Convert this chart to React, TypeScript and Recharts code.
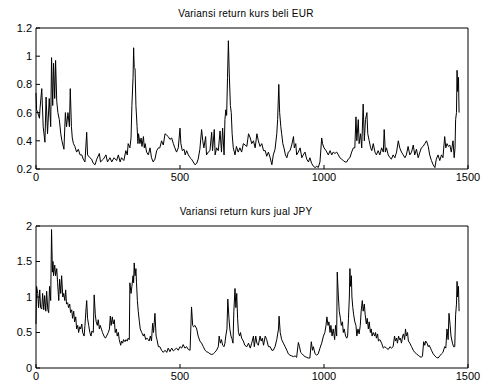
import { LineChart, Line, XAxis, YAxis } from 'recharts';

// time axis (days) and tick labels
const xTicks = [0, 500, 1000, 1500];
const eurTicks = [0.2, 0.4, 0.6, 0.8, 1, 1.2];
const jpyTicks = [0, 0.5, 1, 1.5, 2];

// [day, variance]
const eurBeli: [number, number][] = [
  [0, 0.74], [2, 0.62], [6, 0.6], [12, 0.56], [14, 0.63], [20, 0.77], [25, 0.5], [31, 0.39], [35, 0.71], [40, 0.45],
  [46, 0.7], [51, 0.5], [54, 0.99], [58, 0.65], [61, 0.95], [65, 0.7], [68, 0.97], [72, 0.68], [76, 0.6], [81, 0.55],
  [86, 0.45], [90, 0.4], [97, 0.34], [102, 0.6], [106, 0.5], [111, 0.6], [116, 0.5], [119, 0.77], [123, 0.5], [126, 0.42],
  [130, 0.38], [135, 0.36], [141, 0.32], [147, 0.34], [153, 0.3], [159, 0.3], [164, 0.27], [170, 0.25], [176, 0.46], [179, 0.3],
  [187, 0.28], [193, 0.27], [199, 0.24], [205, 0.23], [211, 0.27], [220, 0.31], [224, 0.25], [234, 0.27], [243, 0.3], [248, 0.25],
  [257, 0.28], [263, 0.25], [271, 0.28], [280, 0.26], [286, 0.3], [292, 0.25], [297, 0.28], [305, 0.26], [312, 0.33], [317, 0.3],
  [320, 0.38], [326, 0.35], [330, 0.42], [333, 0.65], [337, 0.85], [339, 1.06], [341, 0.92], [344, 0.91], [347, 0.65], [351, 0.5],
  [354, 0.38], [356, 0.45], [361, 0.38], [365, 0.42], [368, 0.36], [373, 0.43], [376, 0.35], [379, 0.38], [384, 0.32], [390, 0.3],
  [396, 0.35], [401, 0.28], [407, 0.25], [413, 0.27], [419, 0.33], [425, 0.35], [430, 0.35], [436, 0.4], [442, 0.37], [448, 0.45],
  [454, 0.44], [459, 0.43], [465, 0.41], [471, 0.42], [477, 0.38], [482, 0.35], [488, 0.32], [494, 0.35], [500, 0.49], [503, 0.38],
  [508, 0.33], [514, 0.34], [518, 0.3], [523, 0.33], [529, 0.3], [535, 0.28], [540, 0.27], [546, 0.25], [552, 0.23], [558, 0.24],
  [563, 0.27], [569, 0.34], [575, 0.48], [579, 0.4], [583, 0.35], [589, 0.43], [592, 0.3], [598, 0.32], [604, 0.33], [610, 0.46],
  [613, 0.33], [619, 0.48], [622, 0.3], [627, 0.35], [633, 0.33], [639, 0.47], [644, 0.32], [648, 0.49], [653, 0.3], [656, 0.55],
  [659, 0.62], [662, 0.58], [665, 0.85], [668, 1.11], [671, 0.88], [675, 0.65], [678, 0.6], [681, 0.45], [685, 0.35], [691, 0.3],
  [696, 0.36], [702, 0.32], [708, 0.35], [714, 0.32], [720, 0.38], [732, 0.36], [738, 0.45], [744, 0.42], [749, 0.38], [755, 0.4],
  [761, 0.35], [767, 0.45], [772, 0.4], [778, 0.36], [784, 0.38], [790, 0.33], [796, 0.33], [801, 0.29], [807, 0.32], [813, 0.28],
  [819, 0.23], [824, 0.3], [830, 0.34], [836, 0.45], [839, 0.55], [843, 0.8], [846, 0.6], [850, 0.5], [853, 0.45], [857, 0.38],
  [861, 0.35], [866, 0.3], [871, 0.28], [876, 0.32], [882, 0.33], [888, 0.37], [894, 0.43], [897, 0.35], [902, 0.38], [905, 0.3],
  [911, 0.32], [917, 0.35], [923, 0.28], [928, 0.3], [934, 0.32], [940, 0.27], [946, 0.25], [951, 0.28], [957, 0.24], [963, 0.22],
  [969, 0.21], [975, 0.22], [980, 0.21], [986, 0.25], [992, 0.42], [995, 0.38], [1000, 0.35], [1007, 0.33], [1015, 0.3], [1021, 0.33],
  [1027, 0.3], [1032, 0.32], [1038, 0.31], [1044, 0.32], [1050, 0.3], [1055, 0.28], [1061, 0.27], [1067, 0.26], [1073, 0.25], [1079, 0.25],
  [1084, 0.27], [1090, 0.28], [1096, 0.32], [1102, 0.35], [1107, 0.35], [1111, 0.57], [1114, 0.4], [1119, 0.55], [1122, 0.38], [1127, 0.45],
  [1131, 0.35], [1136, 0.66], [1140, 0.4], [1144, 0.55], [1149, 0.6], [1152, 0.45], [1157, 0.4], [1162, 0.35], [1166, 0.33], [1171, 0.38],
  [1177, 0.32], [1182, 0.3], [1188, 0.33], [1194, 0.3], [1200, 0.35], [1206, 0.32], [1209, 0.48], [1213, 0.32], [1217, 0.35], [1223, 0.3],
  [1229, 0.28], [1234, 0.27], [1240, 0.3], [1246, 0.28], [1252, 0.32], [1258, 0.4], [1263, 0.35], [1269, 0.32], [1275, 0.3], [1281, 0.28],
  [1286, 0.3], [1292, 0.36], [1298, 0.3], [1304, 0.32], [1310, 0.37], [1315, 0.3], [1321, 0.34], [1327, 0.28], [1333, 0.32], [1338, 0.35],
  [1344, 0.36], [1350, 0.38], [1356, 0.4], [1362, 0.36], [1367, 0.3], [1373, 0.26], [1379, 0.23], [1385, 0.21], [1390, 0.27], [1396, 0.3],
  [1402, 0.26], [1408, 0.3], [1413, 0.28], [1419, 0.43], [1423, 0.35], [1427, 0.38], [1432, 0.36], [1437, 0.37], [1442, 0.32], [1448, 0.4],
  [1452, 0.28], [1455, 0.35], [1457, 0.55], [1460, 0.6], [1462, 0.9], [1464, 0.75], [1467, 0.85], [1469, 0.6],
];

const jpyJual: [number, number][] = [
  [0, 0.62], [2, 1.15], [6, 1.05], [9, 0.85], [13, 1.1], [16, 0.85], [20, 0.83], [23, 1.05], [27, 0.82], [30, 1.02],
  [34, 0.8], [37, 1.08], [41, 0.82], [44, 0.78], [47, 1.15], [51, 0.95], [54, 1.95], [57, 1.35], [59, 1.5], [61, 1.3],
  [65, 1.45], [68, 1.3], [72, 1.4], [75, 1.2], [79, 0.95], [82, 1.25], [86, 1.05], [89, 1.3], [93, 1.0], [96, 1.05],
  [100, 0.95], [103, 1.1], [106, 0.9], [110, 0.92], [113, 0.85], [117, 0.9], [120, 0.78], [124, 0.82], [127, 0.7], [131, 0.8],
  [134, 0.65], [138, 0.72], [141, 0.55], [145, 0.6], [148, 0.5], [152, 0.58], [155, 0.55], [159, 0.62], [162, 0.5], [167, 0.45],
  [170, 0.6], [174, 0.85], [176, 0.95], [179, 0.7], [183, 0.6], [187, 0.5], [191, 0.45], [194, 0.52], [199, 0.5], [202, 1.03],
  [206, 0.75], [209, 0.65], [213, 0.6], [216, 0.68], [220, 0.55], [223, 0.6], [227, 0.55], [231, 0.5], [236, 0.45], [241, 0.42],
  [245, 0.45], [251, 0.5], [255, 0.55], [258, 0.73], [261, 0.6], [265, 0.72], [268, 0.62], [272, 0.68], [275, 0.5], [279, 0.55],
  [282, 0.45], [286, 0.5], [289, 0.4], [294, 0.32], [297, 0.38], [301, 0.35], [304, 0.4], [309, 0.37], [312, 0.4], [317, 0.38],
  [320, 0.42], [324, 0.4], [326, 1.2], [330, 1.05], [333, 1.15], [337, 1.3], [339, 1.2], [341, 1.48], [344, 1.3], [347, 1.4],
  [349, 1.2], [352, 0.95], [355, 0.8], [359, 0.65], [362, 0.55], [367, 0.5], [373, 0.45], [376, 0.48], [381, 0.4], [385, 0.42],
  [390, 0.4], [393, 0.38], [397, 0.45], [401, 0.38], [405, 0.63], [408, 0.5], [413, 0.77], [417, 0.45], [420, 0.4], [425, 0.3],
  [430, 0.3], [436, 0.25], [442, 0.22], [448, 0.25], [454, 0.22], [459, 0.28], [465, 0.23], [471, 0.28], [477, 0.24], [482, 0.26],
  [488, 0.28], [494, 0.25], [500, 0.3], [506, 0.28], [511, 0.33], [517, 0.28], [523, 0.3], [529, 0.26], [535, 0.25], [540, 0.86],
  [544, 0.6], [547, 0.58], [552, 0.6], [558, 0.55], [563, 0.45], [569, 0.38], [575, 0.35], [581, 0.3], [587, 0.25], [592, 0.23],
  [598, 0.22], [604, 0.2], [610, 0.19], [616, 0.2], [621, 0.22], [627, 0.25], [633, 0.3], [636, 0.45], [640, 0.35], [644, 0.4],
  [648, 0.32], [653, 0.3], [656, 0.35], [659, 0.45], [663, 0.55], [666, 0.97], [670, 0.7], [673, 0.55], [677, 0.45], [680, 0.42],
  [684, 0.35], [687, 0.8], [691, 1.12], [694, 0.85], [697, 1.05], [700, 0.7], [703, 0.5], [707, 0.45], [710, 0.5], [714, 0.42],
  [720, 0.38], [725, 0.32], [732, 0.3], [738, 0.35], [744, 0.28], [749, 0.35], [755, 0.45], [758, 0.3], [763, 0.45], [767, 0.35],
  [772, 0.32], [778, 0.45], [782, 0.38], [786, 0.42], [790, 0.32], [796, 0.45], [801, 0.4], [807, 0.3], [813, 0.3], [819, 0.25],
  [824, 0.25], [830, 0.3], [836, 0.4], [842, 0.55], [844, 0.73], [848, 0.5], [853, 0.4], [859, 0.35], [865, 0.3], [871, 0.25],
  [876, 0.2], [882, 0.18], [888, 0.17], [894, 0.16], [900, 0.17], [905, 0.15], [911, 0.36], [915, 0.3], [919, 0.22], [924, 0.2],
  [928, 0.18], [934, 0.16], [940, 0.15], [946, 0.14], [951, 0.14], [956, 0.37], [960, 0.25], [963, 0.3], [969, 0.2], [975, 0.18],
  [980, 0.2], [986, 0.28], [992, 0.35], [998, 0.45], [1003, 0.5], [1007, 0.6], [1010, 0.72], [1014, 0.6], [1017, 0.65], [1021, 0.5],
  [1024, 0.6], [1028, 0.45], [1032, 0.55], [1037, 0.4], [1040, 0.6], [1044, 0.45], [1046, 1.35], [1050, 1.0], [1053, 0.8], [1057, 0.7],
  [1060, 0.6], [1064, 0.65], [1067, 0.5], [1070, 0.55], [1075, 0.45], [1079, 0.42], [1082, 0.45], [1085, 0.7], [1088, 1.0], [1090, 1.4],
  [1092, 1.15], [1095, 1.3], [1097, 1.0], [1100, 0.85], [1103, 0.75], [1107, 0.65], [1111, 0.6], [1114, 0.45], [1118, 0.55], [1122, 0.48],
  [1126, 0.6], [1129, 0.8], [1133, 0.95], [1136, 0.8], [1140, 0.9], [1143, 0.75], [1147, 0.62], [1150, 0.7], [1154, 0.55], [1157, 0.65],
  [1161, 0.5], [1164, 0.55], [1167, 0.45], [1171, 0.5], [1176, 0.45], [1179, 0.5], [1182, 0.42], [1186, 0.48], [1189, 0.38], [1194, 0.4],
  [1200, 0.35], [1206, 0.28], [1211, 0.3], [1217, 0.28], [1223, 0.26], [1229, 0.3], [1234, 0.28], [1240, 0.3], [1245, 0.45], [1248, 0.38],
  [1252, 0.42], [1255, 0.35], [1259, 0.45], [1262, 0.4], [1265, 0.42], [1269, 0.35], [1273, 0.45], [1276, 0.48], [1280, 0.4], [1283, 0.55],
  [1286, 0.45], [1290, 0.5], [1293, 0.38], [1298, 0.35], [1304, 0.3], [1310, 0.25], [1315, 0.22], [1321, 0.2], [1327, 0.18], [1333, 0.16],
  [1338, 0.15], [1342, 0.17], [1346, 0.37], [1350, 0.32], [1353, 0.38], [1358, 0.35], [1362, 0.3], [1365, 0.32], [1370, 0.28], [1373, 0.25],
  [1379, 0.2], [1385, 0.17], [1390, 0.15], [1396, 0.14], [1402, 0.17], [1408, 0.2], [1413, 0.22], [1419, 0.3], [1423, 0.28], [1427, 0.55],
  [1431, 0.4], [1434, 0.77], [1438, 0.6], [1441, 0.45], [1446, 0.35], [1450, 0.3], [1454, 0.3], [1457, 0.75], [1460, 0.9], [1462, 1.22],
  [1464, 1.0], [1467, 1.15], [1469, 0.8],
];

const FONT = '"Liberation Sans Narrow", "Liberation Sans", Arial, sans-serif';
const tickStyle = { fill: '#000', fontSize: 11, fontFamily: FONT };

type PanelProps = {
  title: string;
  series: [number, number][];
  yTicks: number[];
  top: number;
  height: number;
  marginTop: number;
  axisHeight: number;
  marginBottom: number;
};

function Panel({ title, series, yTicks, top, height, marginTop, axisHeight, marginBottom }: PanelProps) {
  const data = series.map(([day, v]) => ({ day, v }));
  const domain = [yTicks[0], yTicks[yTicks.length - 1]];
  return (
    <div style={{ position: 'absolute', left: 0, top, width: 486, height }}>
      <div
        style={{
          position: 'absolute', left: 0, width: 492, top: marginTop - 20, textAlign: 'center',
          fontFamily: '"Liberation Sans", Arial, sans-serif', fontSize: 10, letterSpacing: 0.25, color: '#000',
        }}
      >
        {title}
      </div>
      {/* top / right axes only carry the box edge and inward ticks (1px wide so they get drawn) */}
      <LineChart width={486} height={height} data={data} margin={{ top: marginTop - 1, right: 17, bottom: marginBottom, left: 6 }}>
        <XAxis
          xAxisId="b" dataKey="day" type="number" domain={[0, 1500]} ticks={xTicks} interval={0}
          height={axisHeight} tickSize={-4} tickMargin={8} stroke="#000" tick={tickStyle}
        />
        <XAxis
          xAxisId="t" orientation="top" dataKey="day" type="number" domain={[0, 1500]} ticks={xTicks} interval={0}
          height={1} tickSize={-4} stroke="#000" tick={false}
        />
        <YAxis
          yAxisId="l" type="number" domain={domain} ticks={yTicks} interval={0} allowDataOverflow
          width={30} tickSize={-4} tickMargin={8} stroke="#000" tick={tickStyle}
          tickFormatter={(v: number) => String(v)}
        />
        <YAxis
          yAxisId="r" orientation="right" type="number" domain={domain} ticks={yTicks} interval={0} allowDataOverflow
          width={1} tickSize={-4} stroke="#000" tick={false}
        />
        <Line
          xAxisId="b" yAxisId="l" type="linear" dataKey="v" stroke="#000" strokeWidth={1}
          dot={false} isAnimationActive={false}
        />
        <Line
          xAxisId="t" yAxisId="r" type="linear" dataKey="v" stroke="none" strokeOpacity={0}
          dot={false} activeDot={false} isAnimationActive={false}
        />
      </LineChart>
    </div>
  );
}

export default function App() {
  return (
    <div style={{ position: 'absolute', left: 0, top: 0, width: 486, height: 382, background: '#fff' }}>
      <Panel
        title="Variansi return kurs beli EUR" series={eurBeli} yTicks={eurTicks}
        top={0} height={190} marginTop={28} axisHeight={20} marginBottom={1}
      />
      <Panel
        title="Variansi return kurs jual JPY" series={jpyJual} yTicks={jpyTicks}
        top={190} height={192} marginTop={36} axisHeight={14} marginBottom={0}
      />
    </div>
  );
}
